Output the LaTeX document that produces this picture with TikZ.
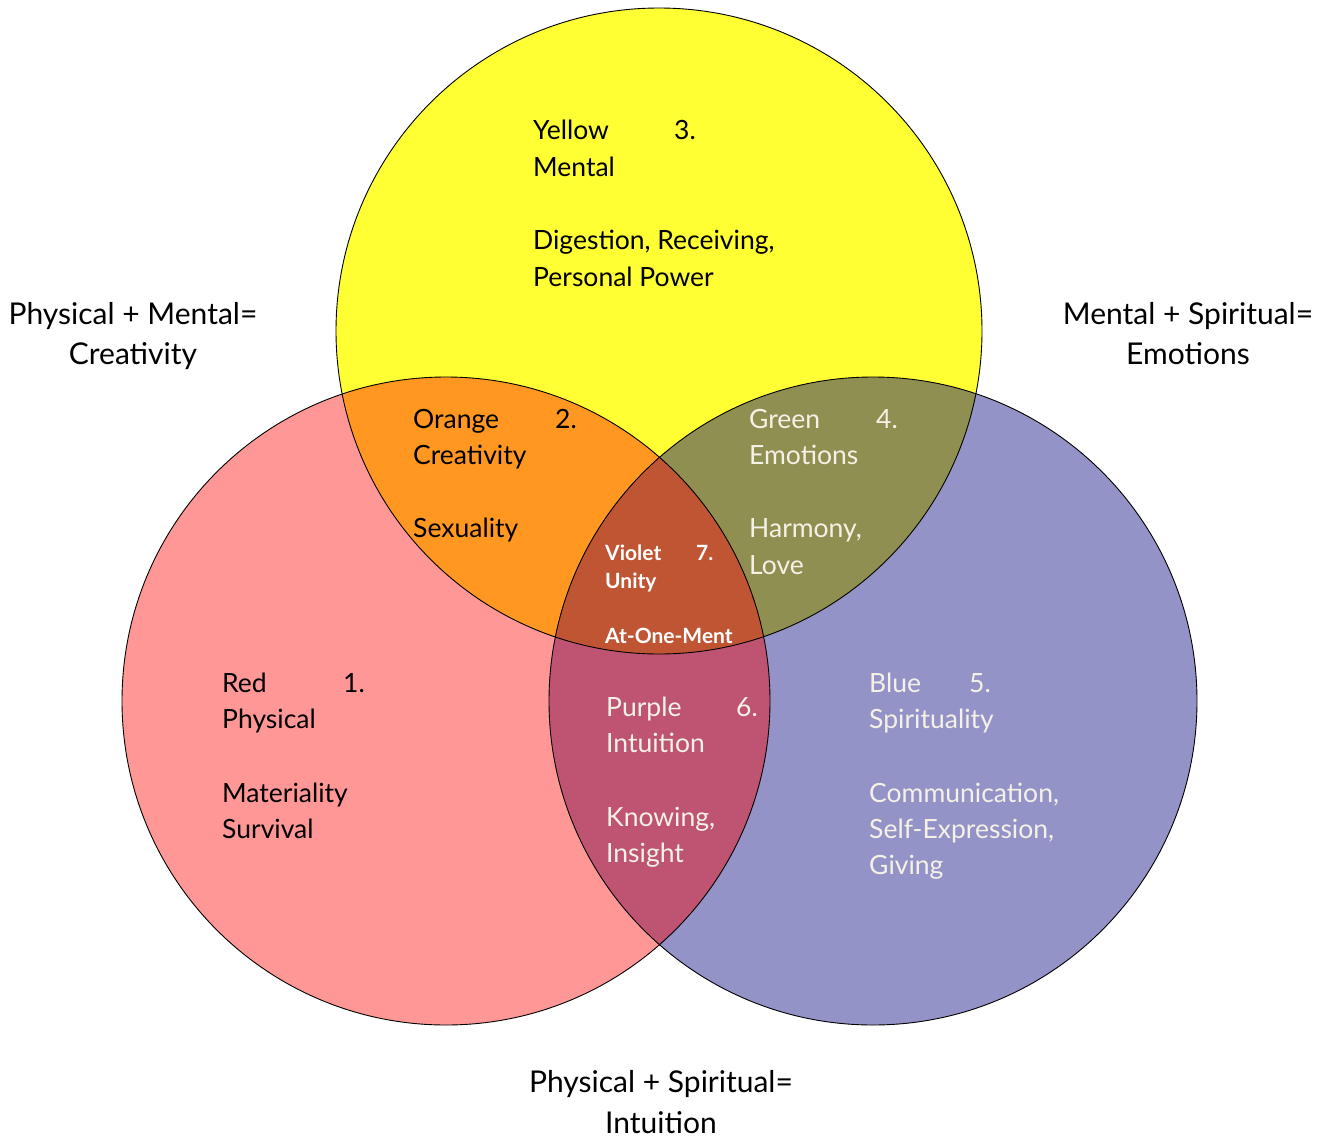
\documentclass[tikz,border=0pt]{standalone}
\usepackage{fontspec}
\setmainfont{Lato}
\definecolor{cyel}{HTML}{FFFF33}
\definecolor{cred}{HTML}{FF9797}
\definecolor{cblue}{HTML}{9393C8}
\definecolor{corange}{HTML}{FF9720}
\definecolor{cgreen}{HTML}{908F52}
\definecolor{cpurple}{HTML}{BF5472}
\definecolor{cviolet}{HTML}{BF5533}
\definecolor{clight}{HTML}{F4F1E6}
\begin{document}
\begin{tikzpicture}[x=1pt,y=-1pt,
  txt/.style={anchor=base west, inner sep=0pt, font=\fontsize{26.5}{30}\selectfont},
  ltxt/.style={txt, text=clight},
  vtxt/.style={anchor=base west, inner sep=0pt, text=white, font=\bfseries\fontsize{21}{25}\selectfont},
  ttl/.style={anchor=base, inner sep=0pt, font=\fontsize{30}{34}\selectfont},
  ring/.style={draw=black, line width=0.9pt}]
\useasboundingbox (0,0) rectangle (1326,1141);
\coordinate (Y) at (659,331);
\coordinate (R) at (446,701);
\coordinate (B) at (873,701);
% base fills
\fill[cred] (R) circle[radius=324];
\fill[cblue] (B) circle[radius=324];
\fill[cyel] (Y) circle[radius=323];
\begin{scope}
  \clip (Y) circle[radius=323];
  \fill[corange] (R) circle[radius=324];
  \fill[cgreen] (B) circle[radius=324];
\end{scope}
\begin{scope}
  \clip (R) circle[radius=324];
  \fill[cpurple] (B) circle[radius=324];
\end{scope}
\begin{scope}
  \clip (Y) circle[radius=323];
  \clip (R) circle[radius=324];
  \fill[cviolet] (B) circle[radius=324];
\end{scope}
\draw[ring] (R) circle[radius=324];
\draw[ring] (B) circle[radius=324];
\draw[ring] (Y) circle[radius=323];
% yellow
\node[txt] (y1) at (533,139) {Yellow};
\node[txt] (y0) at (674,139) {3.};
\node[txt] (y2) at (533,176) {Mental};
\node[txt] (y3) at (533,249) {Digestion, Receiving,};
\node[txt] (y4) at (533,286) {Personal Power};
% orange
\node[txt] (o1) at (413,428) {Orange};
\node[txt] (o0) at (555,428) {2.};
\node[txt] (o2) at (413,464) {Creativity};
\node[txt] (o3) at (413,537) {Sexuality};
% green
\node[ltxt] (g1) at (749,428) {Green};
\node[ltxt] (g0) at (876,428) {4.};
\node[ltxt] (g2) at (749,464) {Emotions};
\node[ltxt] (g3) at (749,537) {Harmony,};
\node[ltxt] (g4) at (749,574) {Love};
% violet
\node[vtxt] (v1) at (605,560) {Violet};
\node[vtxt] (v0) at (696,560) {7.};
\node[vtxt] (v2) at (605,588) {Unity};
\node[vtxt] (v3) at (605,643) {At-One-Ment};
% red
\node[txt] (r1) at (222,692) {Red};
\node[txt] (r0) at (343,692) {1.};
\node[txt] (r2) at (222,728) {Physical};
\node[txt] (r3) at (222,802) {Materiality};
\node[txt] (r4) at (222,838) {Survival};
% purple
\node[ltxt] (p1) at (606,716) {Purple};
\node[ltxt] (p0) at (736,716) {6.};
\node[ltxt] (p2) at (606,752) {Intuition};
\node[ltxt] (p3) at (606,826) {Knowing,};
\node[ltxt] (p4) at (606,862) {Insight};
% blue
\node[ltxt] (b1) at (869,692) {Blue};
\node[ltxt] (b0) at (969,692) {5.};
\node[ltxt] (b2) at (869,728) {Spirituality};
\node[ltxt] (b3) at (869,802) {Communication,};
\node[ltxt] (b4) at (869,838) {Self-Expression,};
\node[ltxt] (b5) at (869,874) {Giving};
% titles
\node[ttl] (t1a) at (133,324) {Physical + Mental=};
\node[ttl] (t1b) at (133,364) {Creativity};
\node[ttl] (t2a) at (1188,324) {Mental + Spiritual=};
\node[ttl] (t2b) at (1188,364) {Emotions};
\node[ttl] (t3a) at (661,1092) {Physical + Spiritual=};
\node[ttl] (t3b) at (661,1133) {Intuition};
\end{tikzpicture}
\end{document}
